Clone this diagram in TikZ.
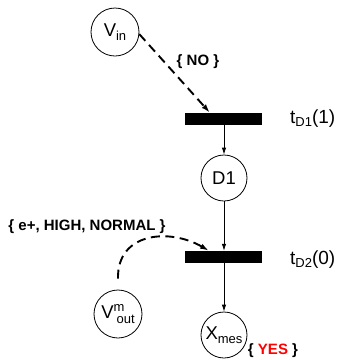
\documentclass[tikz,border=0pt]{standalone}
\usepackage{fontspec}
\setmainfont{Liberation Sans}
\usetikzlibrary{arrows.meta,calc}
% lowered / raised small text for indices
\newcommand\lowtxt[2][4pt]{\raisebox{-#1}{\fontsize{13}{13}\selectfont #2}}
\newcommand\hightxt[2][7pt]{\raisebox{#1}{\fontsize{13}{13}\selectfont #2}}
\begin{document}
\begin{tikzpicture}[x=1pt,y=-1pt,
  place/.style={draw,circle,line width=0.8pt,inner sep=0pt,minimum size=#1,
    font=\fontsize{18.5}{18.5}\selectfont},
  trans/.style={fill=black,minimum width=77pt,minimum height=12pt,inner sep=0pt},
  flow/.style={line width=0.8pt,-{Latex[length=7pt,width=4.5pt]}},
  guard/.style={line width=1.9pt,dash pattern=on 9pt off 5.5pt,
    -{Latex[length=9pt,width=5.5pt]}},
  tag/.style={font=\fontsize{15}{15}\selectfont\bfseries,inner sep=0pt},
  tlabel/.style={anchor=west,font=\fontsize{19}{19}\selectfont,inner sep=0pt}]
\useasboundingbox (0,0) rectangle (340,360);

% places
\node[place=48pt] (vin) at (115,32) {V\lowtxt{in}};
\node[place=46pt] (d1) at (224,178) {D1};
\node[place=46pt] (xmes) at (224,335) {X\lowtxt{mes}};
\node[place=48pt] (vout) at (118,314)
  {V\makebox[0pt][l]{\hightxt{m}}\hspace{3pt}\lowtxt[5pt]{out}};

% transitions
\node[trans] (bar1) at (224,119) {};
\node[trans] (bar2) at (224,257) {};
\node[tlabel] (t1) at (290,119) {t\lowtxt[3pt]{D1}(1)};
\node[tlabel] (t2) at (290,260) {t\lowtxt[3pt]{D2}(0)};

% guard annotations
\node[tag] (gno) at (198,62) {\{ NO \}};
\node[tag] (ge) at (87,227) {\{ e+, HIGH, NORMAL \}};
\node[tag] (gyes) at (273,351) {\{ \textcolor{red}{YES} \}};

% arcs
\draw[guard] (vin.-5) -- ($(bar1.north)+(-14,0)$);
\draw[flow] (bar1) -- (d1);
\draw[flow] (d1) -- (bar2);
\draw[flow] (bar2) -- (xmes);
\draw[guard] ($(vout.north)+(0,-11)$) .. controls (117,232) and (170,228)
  .. ($(bar2.north)+(-15,0)$);
\end{tikzpicture}
\end{document}
